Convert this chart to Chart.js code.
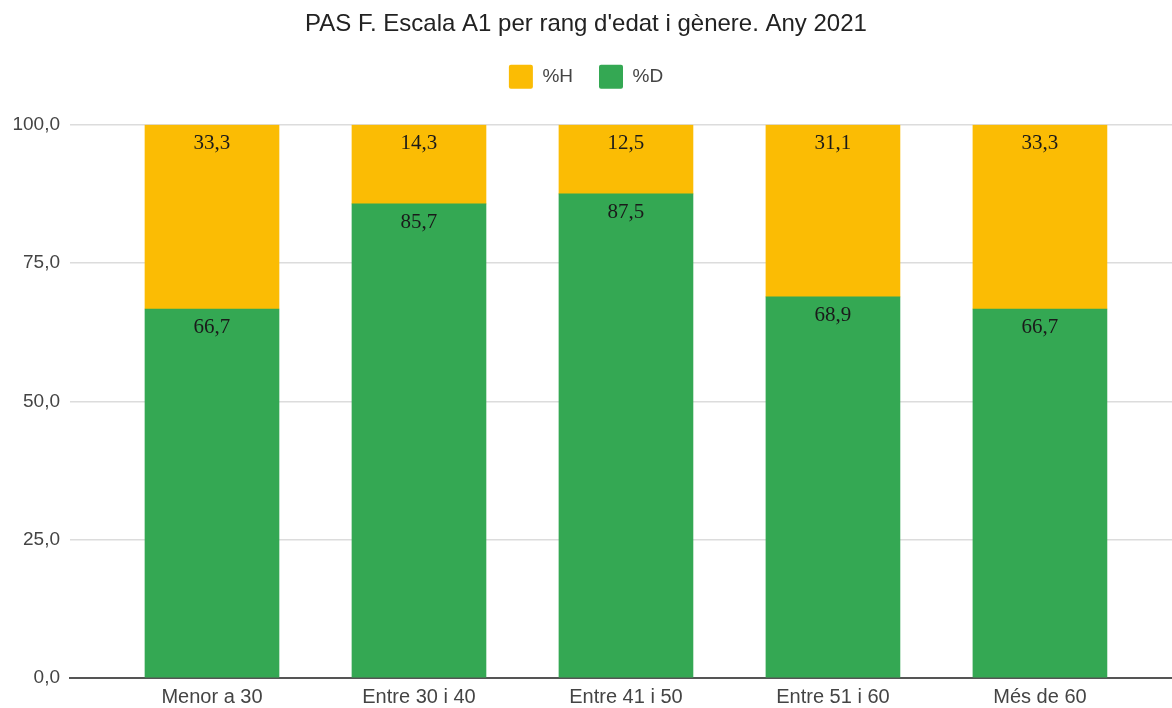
<!DOCTYPE html>
<html>
<head>
<meta charset="utf-8">
<script src="https://cdn.jsdelivr.net/npm/chart.js@4/dist/chart.umd.min.js"></script>
<style>
  body { margin: 0; background: #fff; }
  .chartWrap { width: 1172px; height: 708px; }
</style>
</head>
<body>
<div class="chartWrap"><canvas id="chart"></canvas></div>
<script>
const categories = ["Menor a 30", "Entre 30 i 40", "Entre 41 i 50", "Entre 51 i 60", "Més de 60"];
const valuesD = [66.7, 85.7, 87.5, 68.9, 66.7];
const valuesH = [33.3, 14.3, 12.5, 31.1, 33.3];
const yTicks = [0, 25, 50, 75, 100];

const fmt = (v) => v.toFixed(1).replace(".", ",");

// value labels drawn inside the top of every bar segment
const barLabels = {
  id: "barLabels",
  afterDatasetsDraw(chart) {
    const ctx = chart.ctx;
    ctx.save();
    ctx.font = "21px 'Liberation Serif'";
    ctx.fillStyle = "#1a1a1a";
    ctx.textAlign = "center";
    ctx.textBaseline = "top";
    chart.data.datasets.forEach((ds, i) => {
      chart.getDatasetMeta(i).data.forEach((bar, j) => {
        ctx.fillText(fmt(ds.data[j].y), bar.x, bar.y + 8);
      });
    });
    ctx.restore();
  },
};

const toPoints = (vals) => vals.map((v, i) => ({ x: i, y: v }));

new Chart(document.getElementById("chart"), {
  type: "bar",
  data: {
    datasets: [
      {
        label: "%D",
        data: toPoints(valuesD),
        backgroundColor: "#34a853",
        borderWidth: 0,
        barThickness: 134,
      },
      {
        label: "%H",
        data: toPoints(valuesH),
        backgroundColor: "#fbbc04",
        borderWidth: 0,
        barThickness: 134,
      },
    ],
  },
  options: {
    responsive: true,
    maintainAspectRatio: false,
    animation: false,
    plugins: {
      title: {
        display: true,
        text: "PAS F. Escala A1 per rang d'edat i gènere. Any 2021",
        color: "#222",
        font: { family: "'Liberation Sans', Arial", size: 24, weight: "normal" },
        padding: { top: 10, bottom: 0 },
      },
      subtitle: {
        // empty spacer between the legend and the plot
        display: true,
        text: "",
        weight: 500,
        font: { size: 10 },
        padding: { top: 7, bottom: 7 },
      },
      legend: {
        reverse: true,
        labels: {
          boxWidth: 24,
          boxHeight: 24,
          useBorderRadius: true,
          borderRadius: 2,
          padding: 26,
          color: "#444",
          font: { family: "'Liberation Sans', Arial", size: 19 },
        },
      },
      tooltip: { enabled: false },
    },
    scales: {
      x: {
        type: "linear",
        stacked: true,
        offset: false,
        min: -0.686,
        max: 4.638,
        grid: { display: false, drawTicks: false },
        border: { display: true, color: "#555", width: 2 },
        afterBuildTicks(scale) {
          scale.ticks = categories.map((_, i) => ({ value: i }));
        },
        afterFit(scale) {
          scale.height = 30;
        },
        ticks: {
          callback: (v) => categories[v],
          color: "#444",
          padding: 7,
          maxRotation: 0,
          autoSkip: false,
          font: { family: "'Liberation Sans', Arial", size: 20 },
        },
      },
      y: {
        stacked: true,
        min: 0,
        max: 100,
        grid: { color: "#dcdcdc", lineWidth: 1.5, drawTicks: false },
        border: { display: false },
        afterBuildTicks(scale) {
          scale.ticks = yTicks.map((v) => ({ value: v }));
        },
        afterFit(scale) {
          scale.width = 70;
        },
        ticks: {
          callback: (v) => fmt(v),
          color: "#444",
          padding: 10,
          font: { family: "'Liberation Sans', Arial", size: 19 },
        },
      },
    },
  },
  plugins: [barLabels],
});
</script>
</body>
</html>
